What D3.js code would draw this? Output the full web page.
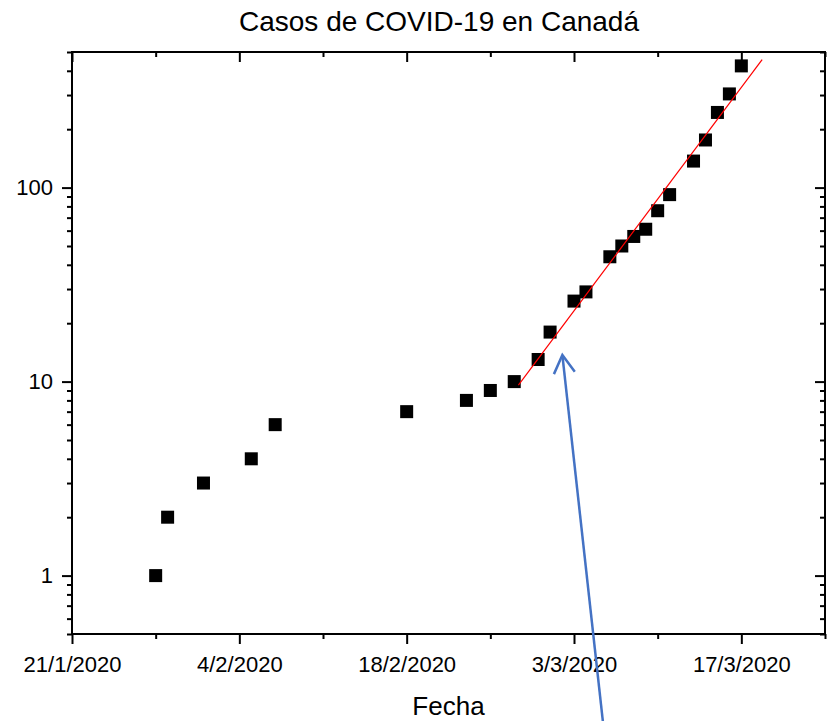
<!DOCTYPE html>
<html>
<head>
<meta charset="utf-8">
<script src="https://cdn.jsdelivr.net/npm/d3@7"></script>
<style>
  body { margin: 0; background: #fff; }
  svg text { font-family: "Liberation Sans", Arial, sans-serif; fill: #000; }
</style>
</head>
<body>
<div class="chart"></div>
<script>
// casos confirmados (fecha, casos)
const dates = ["28/1/2020","29/1/2020","1/2/2020","5/2/2020","7/2/2020","18/2/2020",
  "23/2/2020","25/2/2020","27/2/2020","29/2/2020","1/3/2020","3/3/2020","4/3/2020",
  "6/3/2020","7/3/2020","8/3/2020","9/3/2020","10/3/2020","11/3/2020","13/3/2020",
  "14/3/2020","15/3/2020","16/3/2020","17/3/2020"]
const cases = [1,2,3,4,6,7,8,9,10,13,18,26,29,44,50,56,61,76,92,137,176,244,304,424]

// ajuste exponencial (extremos de la recta roja)
const fitDates = ["27/2/2020 08:24", "18/3/2020 17:45"]
const fitValues = [9.6, 457]

// flecha azul (cola -> punta)
const arrowDates = ["5/3/2020 10:00", "2/3/2020 00:40"]
const arrowValues = [0.177, 13.7]

const xMajorTicks = ["21/1/2020","4/2/2020","18/2/2020","3/3/2020","17/3/2020"]
const xMinorTicks = ["28/1/2020","11/2/2020","25/2/2020","10/3/2020","24/3/2020"]
const yMajorTicks = [1, 10, 100]
const yMinorTicks = [0.5,0.6,0.7,0.8,0.9,2,3,4,5,6,7,8,9,20,30,40,50,60,70,80,90,200,300,400,500]

const parseDay = d3.timeParse("%d/%m/%Y")
const parseTime = d3.timeParse("%d/%m/%Y %H:%M")
const fmt = d => `${d.getDate()}/${d.getMonth()+1}/${d.getFullYear()}`

const data = dates.map((d, i) => ({date: parseDay(d), value: cases[i]}))
const fit = fitDates.map((d, i) => ({date: parseTime(d), value: fitValues[i]}))
const arrow = arrowDates.map((d, i) => ({date: parseTime(d), value: arrowValues[i]}))

const svgwidth = 828
const svgheight = 721
const margin = ({top: 52, right: 3, bottom: 87, left: 72})
const width = svgwidth - margin.left - margin.right
const height = svgheight - margin.top - margin.bottom

const svg = d3.select(".chart").append("svg")
  .attr("width", svgwidth)
  .attr("height", svgheight)

const g = svg.append("g")
  .attr("transform", `translate(${margin.left},${margin.top})`)

const xScale = d3.scaleTime()
  .domain([parseDay("21/1/2020"), parseDay("24/3/2020")])
  .range([0, width])
const yScale = d3.scaleLog()
  .domain([0.5, 500])
  .range([height, 0])

function styleAxis(sel) {
  sel.select(".domain").remove()
  sel.selectAll(".tick line").attr("stroke", "#000").attr("stroke-width", 2)
  sel.selectAll("text").attr("font-size", 22).style("font-family", "'Liberation Sans', Arial, sans-serif")
}

// eje inferior
g.append("g").attr("transform", `translate(0,${height})`)
  .call(d3.axisBottom(xScale).tickValues(xMajorTicks.map(parseDay)).tickSize(10).tickPadding(12).tickFormat(fmt))
  .call(styleAxis)
g.append("g").attr("transform", `translate(0,${height})`)
  .call(d3.axisBottom(xScale).tickValues(xMinorTicks.map(parseDay)).tickSize(5).tickFormat(""))
  .call(styleAxis)
// eje superior (marcas hacia dentro)
g.append("g")
  .call(d3.axisTop(xScale).tickValues(xMajorTicks.map(parseDay)).tickSize(-10).tickFormat(""))
  .call(styleAxis)
g.append("g")
  .call(d3.axisTop(xScale).tickValues(xMinorTicks.map(parseDay)).tickSize(-5).tickFormat(""))
  .call(styleAxis)
// eje izquierdo
g.append("g")
  .call(d3.axisLeft(yScale).tickValues(yMajorTicks).tickSize(10).tickPadding(9).tickFormat(d3.format("d")))
  .call(styleAxis)
g.append("g")
  .call(d3.axisLeft(yScale).tickValues(yMinorTicks).tickSize(5).tickFormat(""))
  .call(styleAxis)
// eje derecho
g.append("g").attr("transform", `translate(${width},0)`)
  .call(d3.axisRight(yScale).tickValues(yMajorTicks).tickSize(-10).tickFormat(""))
  .call(styleAxis)
g.append("g").attr("transform", `translate(${width},0)`)
  .call(d3.axisRight(yScale).tickValues(yMinorTicks).tickSize(-5).tickFormat(""))
  .call(styleAxis)

// marco
g.append("rect")
  .attr("width", width)
  .attr("height", height)
  .attr("fill", "none")
  .attr("stroke", "#000")
  .attr("stroke-width", 2)

// puntos
g.selectAll(".pt")
  .data(data)
  .enter()
  .append("rect")
  .attr("class", "pt")
  .attr("x", d => xScale(d.date) - 6.5)
  .attr("y", d => yScale(d.value) - 6.5)
  .attr("width", 13)
  .attr("height", 13)
  .attr("fill", "#000")

// recta de ajuste
const line = d3.line().x(d => xScale(d.date)).y(d => yScale(d.value))
g.append("path")
  .datum(fit)
  .attr("d", line)
  .attr("fill", "none")
  .attr("stroke", "#ff0000")
  .attr("stroke-width", 1.2)

// flecha
svg.append("defs").append("marker")
  .attr("id", "head")
  .attr("markerUnits", "userSpaceOnUse")
  .attr("viewBox", "-22 -13 26 26")
  .attr("refX", 0).attr("refY", 0)
  .attr("markerWidth", 26).attr("markerHeight", 26)
  .attr("orient", "auto")
  .append("path")
  .attr("d", "M-18,-10.5L0,0L-18,10.5")
  .attr("fill", "none")
  .attr("stroke", "#4472c4")
  .attr("stroke-width", 2.5)

g.append("path")
  .datum(arrow)
  .attr("d", line)
  .attr("fill", "none")
  .attr("stroke", "#4472c4")
  .attr("stroke-width", 2.5)
  .attr("marker-end", "url(#head)")

// titulo y etiqueta
svg.append("text")
  .attr("x", 439)
  .attr("y", 31)
  .attr("text-anchor", "middle")
  .attr("font-size", 28)
  .text("Casos de COVID-19 en Canadá")

svg.append("text")
  .attr("x", margin.left + width / 2)
  .attr("y", 715)
  .attr("text-anchor", "middle")
  .attr("font-size", 26)
  .text("Fecha")
</script>
</body>
</html>
